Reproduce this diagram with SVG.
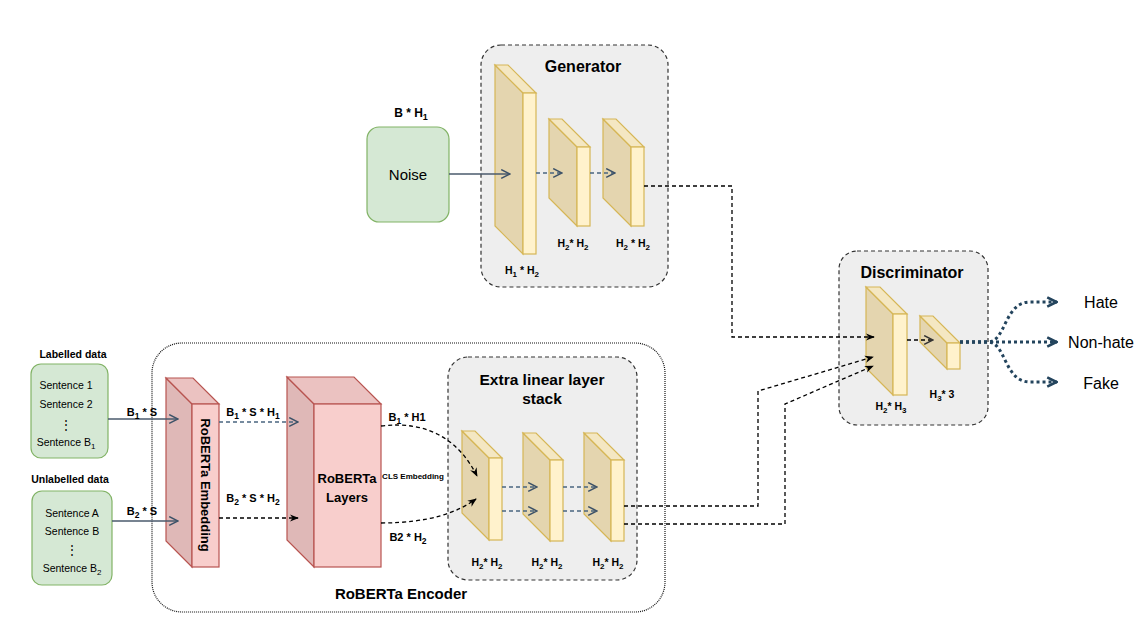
<svg xmlns="http://www.w3.org/2000/svg" width="1147" height="625" viewBox="0 0 1147 625">
<style>
text{font-family:"Liberation Sans",Arial,sans-serif;fill:#000;text-anchor:middle}
.b{font-weight:bold}
.cont{fill:#eeeeee;stroke:#333;stroke-width:1.2;stroke-dasharray:4 3}
.enc{fill:none;stroke:#111;stroke-width:1.2;stroke-dasharray:1 1}
.green{fill:#d5e8d4;stroke:#82b366;stroke-width:1.2}
.yf{fill:#fff2cc;stroke:#d6b656;stroke-width:1.2}
.ys{fill:#e4d5af;stroke:#d6b656;stroke-width:1.2}
.yt{fill:#f4e7c2;stroke:#d6b656;stroke-width:1.2}
.rf{fill:#f8cecc;stroke:#b85450;stroke-width:1.2}
.rs{fill:#dfb8b7;stroke:#b85450;stroke-width:1.2}
.rt{fill:#ebc2c1;stroke:#b85450;stroke-width:1.2}
.sl{fill:none;stroke:#4a5a6c;stroke-width:1.5}
.sd{fill:none;stroke:#4a6580;stroke-width:1.3;stroke-dasharray:4 3}
.bd{fill:none;stroke:#000;stroke-width:1.3;stroke-dasharray:4 3}
.out{fill:none;stroke:#23445d;stroke-width:3;stroke-dasharray:3 3}
</style>
<defs>
<marker id="op" viewBox="0 0 10 10" refX="9" refY="5" markerWidth="11" markerHeight="11" markerUnits="userSpaceOnUse" orient="auto"><path d="M1,1 L9,5 L1,9" fill="none" stroke="#3d5268" stroke-width="1.4"/></marker>
<marker id="opk" viewBox="0 0 10 10" refX="9" refY="5" markerWidth="11" markerHeight="11" markerUnits="userSpaceOnUse" orient="auto"><path d="M1,1 L9,5 L1,9" fill="none" stroke="#333" stroke-width="1.4"/></marker>
<marker id="opo" viewBox="0 0 10 10" refX="9" refY="5" markerWidth="13" markerHeight="13" markerUnits="userSpaceOnUse" orient="auto"><path d="M1.5,1.5 L8.5,5 L1.5,8.5" fill="none" stroke="#23445d" stroke-width="2"/></marker>
<marker id="blk" viewBox="0 0 10 10" refX="9" refY="5" markerWidth="9" markerHeight="9" markerUnits="userSpaceOnUse" orient="auto"><path d="M0,1 L10,5 L0,9 L3,5z" fill="#000"/></marker>
</defs>

<g id="encoder-container">
<rect class="enc" x="152" y="343" width="513" height="269" rx="30"/>
<text class="b" x="401" y="599" font-size="15">RoBERTa Encoder</text>
</g>

<g id="generator-container">
<rect class="cont" x="481" y="45" width="187" height="242" rx="20"/>
<text class="b" x="583" y="72" font-size="16">Generator</text>
</g>

<g id="discriminator-container">
<rect class="cont" x="839" y="251" width="149" height="174" rx="18"/>
<text class="b" x="912" y="278" font-size="16">Discriminator</text>
</g>

<g id="extra-stack-container">
<rect class="cont" x="448" y="357" width="189" height="223" rx="20"/>
<text class="b" x="542" y="385" font-size="15.5">Extra linear layer</text>
<text class="b" x="542" y="404" font-size="15.5">stack</text>
</g>

<g id="noise">
<rect class="green" x="367" y="127" width="82" height="95" rx="12"/>
<text x="408" y="180" font-size="15">Noise</text>
<text class="b" x="411" y="117" font-size="12">B * H<tspan font-size="9" dy="3">1</tspan></text>
</g>

<g id="gen-layer1">
<polygon class="ys" points="495,65 523,93 523,254 495,226"/>
<polygon class="yt" points="495,65 508,65 536,93 523,93"/>
<rect class="yf" x="523" y="93" width="13" height="161"/>
<text class="b" x="522" y="274" font-size="10.5">H<tspan font-size="8" dy="2.5">1</tspan><tspan dy="-2.5"> * H</tspan><tspan font-size="8" dy="2.5">2</tspan></text>
</g>
<g id="gen-layer2">
<polygon class="ys" points="549,119 577,147 577,226 549,198"/>
<polygon class="yt" points="549,119 562,119 590,147 577,147"/>
<rect class="yf" x="577" y="147" width="13" height="79"/>
<text class="b" x="573" y="247" font-size="10.5">H<tspan font-size="8" dy="2.5">2</tspan><tspan dy="-2.5">* H</tspan><tspan font-size="8" dy="2.5">2</tspan></text>
</g>
<g id="gen-layer3">
<polygon class="ys" points="603,119 631,147 631,226 603,198"/>
<polygon class="yt" points="603,119 616,119 644,147 631,147"/>
<rect class="yf" x="631" y="147" width="13" height="79"/>
<text class="b" x="633" y="247" font-size="10.5">H<tspan font-size="8" dy="2.5">2</tspan><tspan dy="-2.5"> * H</tspan><tspan font-size="8" dy="2.5">2</tspan></text>
</g>

<g id="disc-layer1">
<polygon class="ys" points="866,287 893,314 893,395 866,368"/>
<polygon class="yt" points="866,287 880,287 907,314 893,314"/>
<rect class="yf" x="893" y="314" width="14" height="81"/>
<text class="b" x="891" y="410" font-size="10.5">H<tspan font-size="8" dy="2.5">2</tspan><tspan dy="-2.5">* H</tspan><tspan font-size="8" dy="2.5">3</tspan></text>
</g>
<g id="disc-layer2">
<polygon class="ys" points="920,316 947,343 947,369 920,342"/>
<polygon class="yt" points="920,316 933,316 960,343 947,343"/>
<rect class="yf" x="947" y="343" width="13" height="26"/>
<text class="b" x="942" y="398" font-size="10.5">H<tspan font-size="8" dy="2.5">3</tspan><tspan dy="-2.5">* 3</tspan></text>
</g>

<g id="out-hate"><text x="1101" y="308" font-size="16">Hate</text></g>
<g id="out-nonhate"><text x="1101" y="348" font-size="16">Non-hate</text></g>
<g id="out-fake"><text x="1101" y="389" font-size="16">Fake</text></g>

<g id="labelled-data">
<text class="b" x="73" y="358" font-size="10.5">Labelled data</text>
<rect class="green" x="31" y="364" width="77" height="94" rx="10"/>
<text x="66" y="389" font-size="10.5">Sentence 1</text>
<text x="66" y="408" font-size="10.5">Sentence 2</text>
<text x="66" y="429" font-size="12">⋮</text>
<text x="66" y="446" font-size="10.5">Sentence B<tspan font-size="8" dy="2.5">1</tspan></text>
</g>
<g id="unlabelled-data">
<text class="b" x="70" y="483" font-size="10.5">Unlabelled data</text>
<rect class="green" x="32" y="491" width="80" height="94" rx="10"/>
<text x="72" y="517" font-size="10.5">Sentence A</text>
<text x="72" y="535" font-size="10.5">Sentence B</text>
<text x="72" y="554" font-size="12">⋮</text>
<text x="72" y="572" font-size="10.5">Sentence B<tspan font-size="8" dy="2.5">2</tspan></text>
</g>

<g id="roberta-embedding">
<polygon class="rs" points="166,378 192,404 192,567 166,541"/>
<polygon class="rt" points="166,378 193,378 219,404 192,404"/>
<rect class="rf" x="192" y="404" width="27" height="163"/>
<text class="b" font-size="13" transform="translate(201,485) rotate(90)">RoBERTa Embedding</text>
</g>

<g id="roberta-layers">
<polygon class="rs" points="287,377 314,404 314,567 287,540"/>
<polygon class="rt" points="287,377 354,377 381,404 314,404"/>
<rect class="rf" x="314" y="404" width="67" height="163"/>
<text class="b" x="347" y="483" font-size="13">RoBERTa</text>
<text class="b" x="347" y="502" font-size="13">Layers</text>
</g>

<g id="stack-layer1">
<polygon class="ys" points="462,431 489,458 489,540 462,513"/>
<polygon class="yt" points="462,431 475,431 502,458 489,458"/>
<rect class="yf" x="489" y="458" width="13" height="82"/>
<text class="b" x="487" y="566" font-size="10.5">H<tspan font-size="8" dy="2.5">2</tspan><tspan dy="-2.5">* H</tspan><tspan font-size="8" dy="2.5">2</tspan></text>
</g>
<g id="stack-layer2">
<polygon class="ys" points="523,433 550,460 550,541 523,514"/>
<polygon class="yt" points="523,433 536,433 563,460 550,460"/>
<rect class="yf" x="550" y="460" width="13" height="81"/>
<text class="b" x="547" y="566" font-size="10.5">H<tspan font-size="8" dy="2.5">2</tspan><tspan dy="-2.5">* H</tspan><tspan font-size="8" dy="2.5">2</tspan></text>
</g>
<g id="stack-layer3">
<polygon class="ys" points="584,433 611,460 611,541 584,514"/>
<polygon class="yt" points="584,433 597,433 624,460 611,460"/>
<rect class="yf" x="611" y="460" width="13" height="81"/>
<text class="b" x="608" y="566" font-size="10.5">H<tspan font-size="8" dy="2.5">2</tspan><tspan dy="-2.5">* H</tspan><tspan font-size="8" dy="2.5">2</tspan></text>
</g>

<g id="connectors">
<path class="sl" d="M449,174 L510,174" marker-end="url(#op)"/>
<path class="sd" d="M536,173 L562,173" marker-end="url(#op)"/>
<path class="sd" d="M590,173 L615,173" marker-end="url(#op)"/>
<path class="bd" d="M644,186 L732,186 L732,337 L874,337" marker-end="url(#blk)"/>
<path class="bd" d="M907,340 L933,340" marker-end="url(#opk)"/>
<path class="out" d="M960,342 L988,342 C1006,342 1004,302 1030,302 L1057,302" marker-end="url(#opo)"/>
<path class="out" d="M960,342 L1057,342" marker-end="url(#opo)"/>
<path class="out" d="M960,342 L988,342 C1006,342 1004,382 1030,382 L1057,382" marker-end="url(#opo)"/>
<path class="sl" d="M108,419 L178,419" marker-end="url(#op)"/>
<path class="sl" d="M112,521 L178,521" marker-end="url(#op)"/>
<path class="sd" d="M219,422 L298,422" marker-end="url(#op)"/>
<path class="bd" d="M219,518 L298,518" marker-end="url(#blk)"/>
<path class="bd" d="M381,426 C430,420 460,442 477,476" marker-end="url(#blk)"/>
<path class="bd" d="M381,523 C430,523 458,512 476,499" marker-end="url(#blk)"/>
<path class="sd" d="M502,487 L537,487" marker-end="url(#op)"/>
<path class="sd" d="M502,511 L537,511" marker-end="url(#op)"/>
<path class="sd" d="M563,487 L597,487" marker-end="url(#op)"/>
<path class="sd" d="M563,511 L597,511" marker-end="url(#op)"/>
<path class="bd" d="M624,506 L758,506 L758,391 L873,357" marker-end="url(#blk)"/>
<path class="bd" d="M624,524 L785,524 L785,404 L873,366" marker-end="url(#blk)"/>
</g>

<g id="edge-labels">
<text class="b" x="142" y="416" font-size="11">B<tspan font-size="8.5" dy="2.5">1</tspan><tspan dy="-2.5"> * S</tspan></text>
<text class="b" x="142" y="515" font-size="11">B<tspan font-size="8.5" dy="2.5">2</tspan><tspan dy="-2.5"> * S</tspan></text>
<text class="b" x="253" y="416" font-size="11">B<tspan font-size="8.5" dy="2.5">1</tspan><tspan dy="-2.5"> * S * H</tspan><tspan font-size="8.5" dy="2.5">1</tspan></text>
<text class="b" x="253" y="502" font-size="11">B<tspan font-size="8.5" dy="2.5">2</tspan><tspan dy="-2.5"> * S * H</tspan><tspan font-size="8.5" dy="2.5">2</tspan></text>
<text class="b" x="407" y="421" font-size="11">B<tspan font-size="8.5" dy="2.5">1</tspan><tspan dy="-2.5"> * H1</tspan></text>
<text class="b" x="413" y="479" font-size="8">CLS Embedding</text>
<text class="b" x="408" y="541" font-size="11">B2 * H<tspan font-size="8.5" dy="2.5">2</tspan></text>
</g>
</svg>
